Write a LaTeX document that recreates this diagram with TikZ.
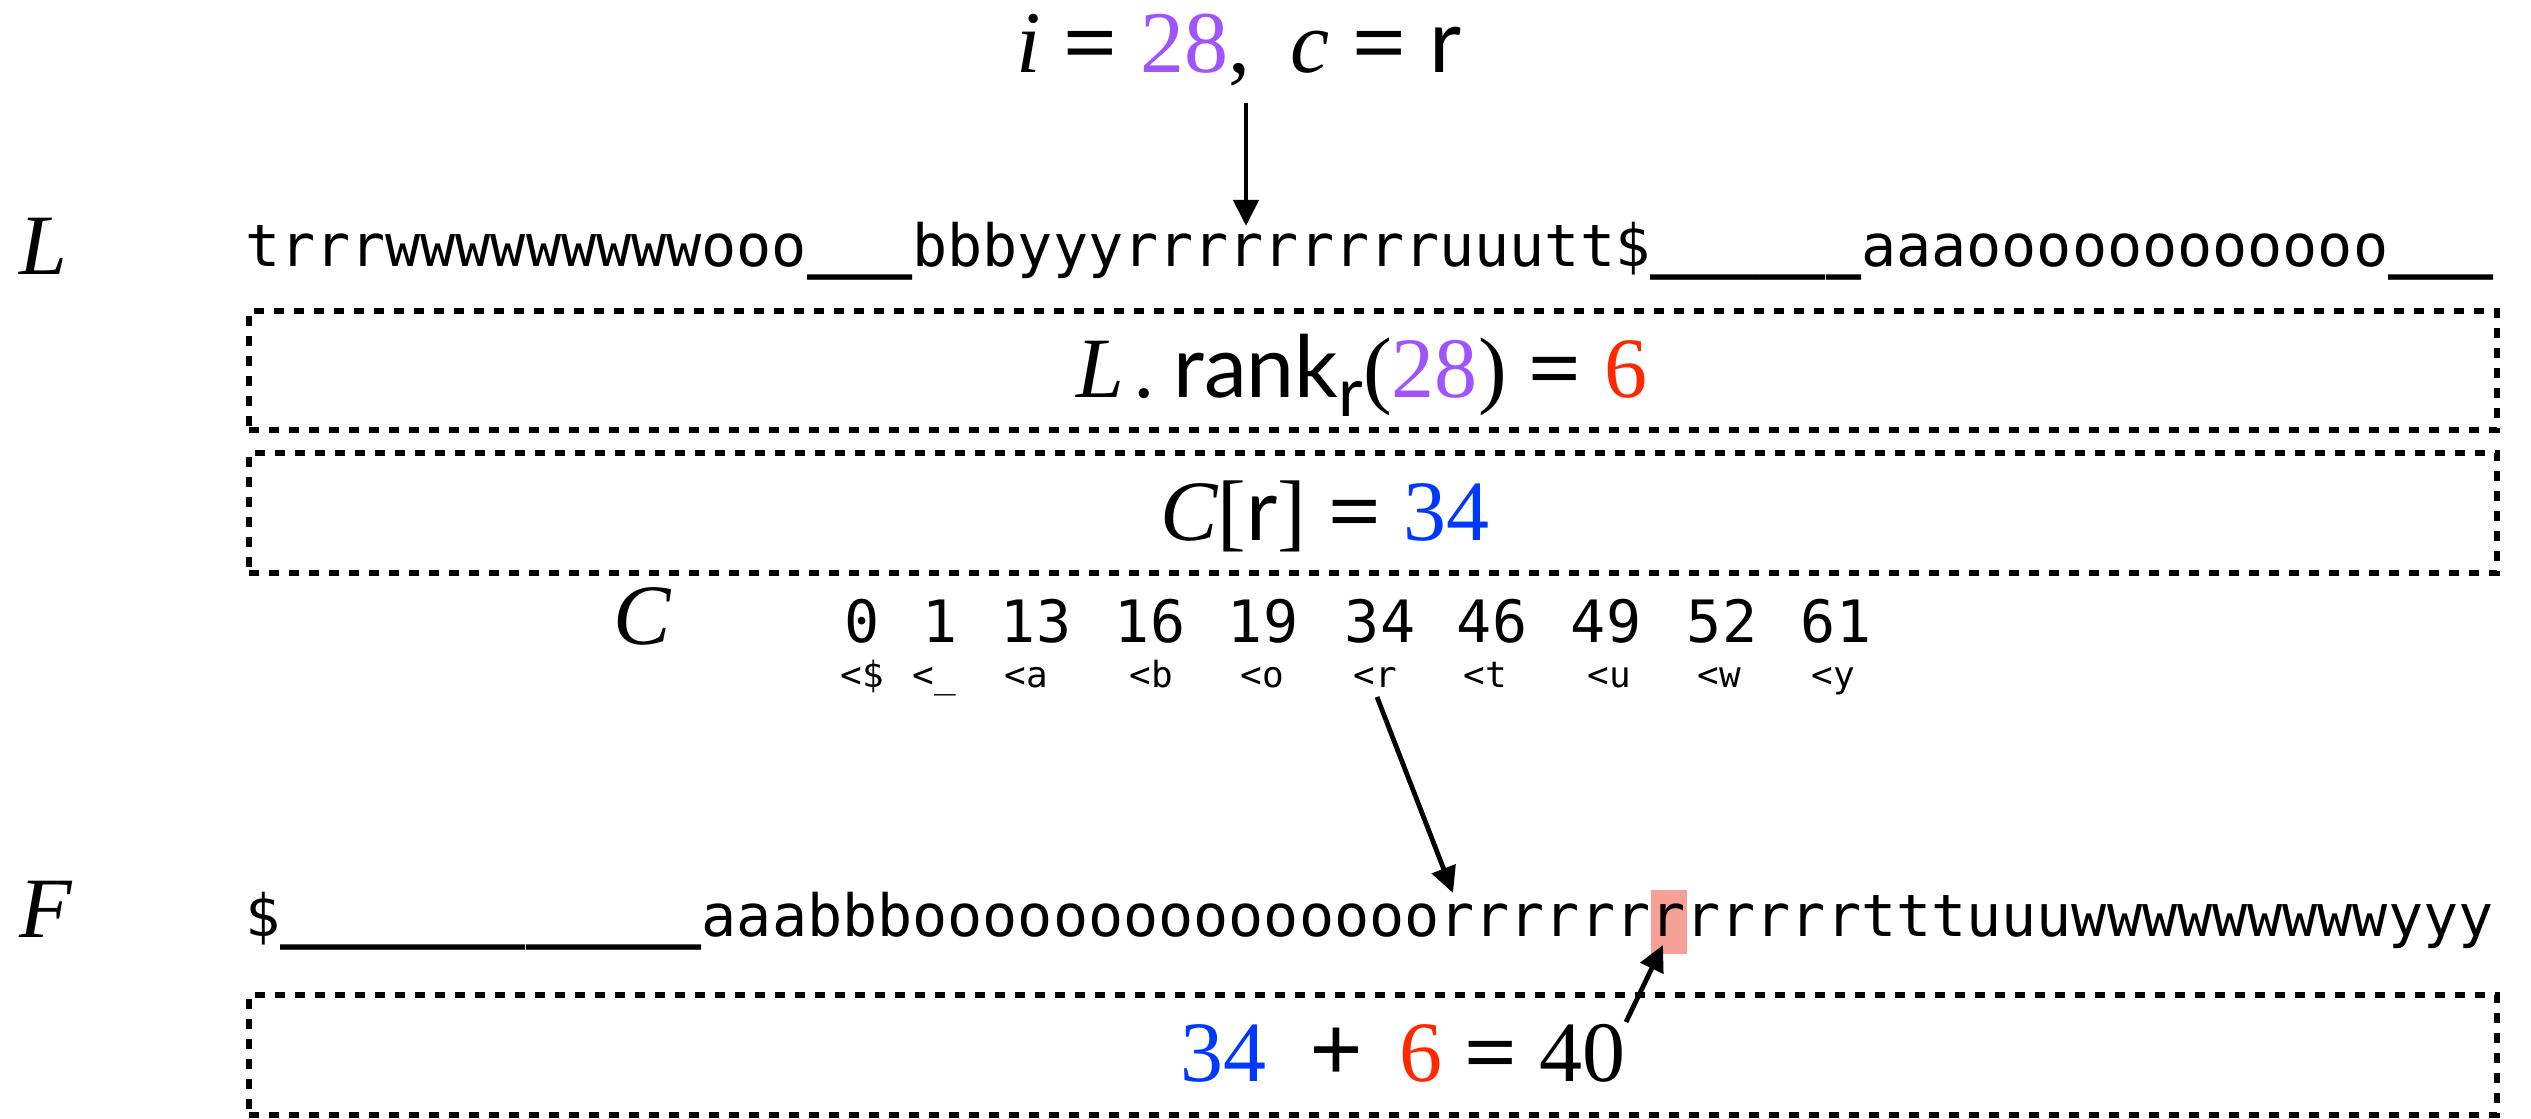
\documentclass[tikz,border=0pt]{standalone}
\usepackage{fontspec}
\setmainfont{Liberation Serif}
\setsansfont{Lato}
\setmonofont{DejaVu Sans Mono}
\usetikzlibrary{arrows.meta}
\definecolor{vpurple}{RGB}{159,84,255}
\definecolor{vred}{RGB}{255,40,0}
\definecolor{vblue}{RGB}{0,56,255}
\definecolor{hilite}{RGB}{247,160,150}
\newcommand{\bigmono}{\ttfamily\fontsize{14.59pt}{16pt}\selectfont}
\newcommand{\smallmono}{\ttfamily\fontsize{9pt}{10pt}\selectfont}
\newcommand{\bigserif}{\rmfamily\fontsize{21.5pt}{24pt}\selectfont}
\newcommand{\eqs}{\hspace{0.26em}{\bfseries\scalebox{1.08}[1]{=}}\hspace{0.26em}}
\newcommand{\us}{{\bfseries\_}}
\begin{document}
\begin{tikzpicture}[x=0.25pt,y=-0.25pt,
  txt/.style={inner sep=0pt,outer sep=0pt,anchor=base,font=\bigserif},
  lbl/.style={inner sep=0pt,outer sep=0pt,anchor=base west,font=\bigserif\itshape},
  seq/.style={inner sep=0pt,outer sep=0pt,anchor=base west,font=\bigmono},
  num/.style={inner sep=0pt,outer sep=0pt,anchor=base,font=\bigmono},
  sub/.style={inner sep=0pt,outer sep=0pt,anchor=base,font=\smallmono},
  dbox/.style={draw,line width=1.4pt,dash pattern=on 2.5pt off 2.5pt,
    minimum width=562pt,minimum height=29.75pt,inner sep=0pt},
  arr/.style={-{Triangle[length=6.5pt,width=6.2pt]},line width=1.2pt}]
\useasboundingbox (0,0) rectangle (2531,1119);
% title
\node[txt,font=\rmfamily\fontsize{22pt}{24pt}\selectfont] (title) at (1239,73)
  {{\itshape i}\eqs{\color{vpurple}28},\hspace{0.45em}{\itshape c}\eqs{\sffamily r}};
% L row
\node[lbl] (Llab) at (20,275) {L};
\node[seq] (Lseq) at (245,267)
  {trrrwwwwwwwwwooo\us\us\us bbbyyyrrrrrrrrruuutt\$\us\us\us\us\us\us aaaoooooooooooo\us\us\us};
\coordinate (a1s) at (1246,103);
\coordinate (a1e) at (1246,226);
\draw[arr] (a1s) -- (a1e);
% boxes
\node[dbox] (box1) at (1373,370.5) {};
\node[txt] (rank) at (1362,398)
  {{\itshape L}\hspace{0.1em}.\hspace{0.22em}{\sffamily rank\raisebox{-0.22em}{\fontsize{17pt}{18pt}\selectfont r}}({\color{vpurple}28})\eqs{\color{vred}6}};
\node[dbox,minimum height=30pt] (box2) at (1373,513) {};
\node[txt] (cr) at (1325,541)
  {{\itshape C}[{\sffamily r}]\eqs{\color{vblue}34}};
% C row
\node[lbl] (Clab) at (613,645) {C};
\foreach \v/\x [count=\k] in {0/862,1/940,13/1036,16/1150,19/1263,34/1380,46/1492,49/1606,52/1722,61/1836}
  \node[num] (n\k) at (\x,643) {\v};
\node[sub] (l1) at (862,688) {<\$};
\node[sub] (l2) at (934,688) {<\_};
\node[sub] (l3) at (1026,688) {<a};
\node[sub] (l4) at (1151,688) {<b};
\node[sub] (l5) at (1262,688) {<o};
\node[sub] (l6) at (1375,688) {<r};
\node[sub] (l7) at (1485,688) {<t};
\node[sub] (l8) at (1609,688) {<u};
\node[sub] (l9) at (1719,688) {<w};
\node[sub] (l10) at (1833,688) {<y};
% F row
\node[fill=hilite,inner sep=0pt,minimum width=9pt,minimum height=16pt] (hl) at (1669,922) {};
\node[lbl] (Flab) at (20,938) {F};
\node[seq] (Fseq) at (245,937)
  {\$\us\us\us\us\us\us\us\us\us\us\us\us aaabbbooooooooooooooorrrrrrrrrrrrtttuuuwwwwwwwwwyyy};
\coordinate (a2s) at (1377,697);
\coordinate (a2e) at (1453,893);
\draw[arr] (a2s) -- (a2e);
% bottom box
\node[dbox,minimum height=30pt] (box3) at (1373,1055) {};
\node[txt] (sum) at (1403,1082)
  {{\color{vblue}34}\hspace{0.5em}{\bfseries\scalebox{1.1}{+}}\hspace{0.42em}{\color{vred}6}\eqs 40};
\coordinate (a3s) at (1626,1022);
\coordinate (a3e) at (1663,945);
\draw[arr] (a3s) -- (a3e);
\end{tikzpicture}
\end{document}
